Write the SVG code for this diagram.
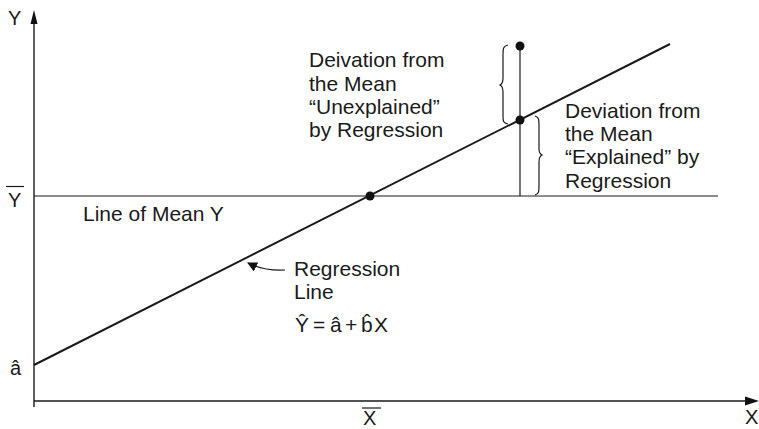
<svg xmlns="http://www.w3.org/2000/svg" width="759" height="429" viewBox="0 0 759 429">
<style>
text{font-family:"Liberation Sans",Arial,sans-serif;font-size:21px;fill:#1a1a1a}
.s{font-size:20px}
.ax{stroke:#1a1a1a;stroke-width:1.4;fill:none}
.thin{stroke:#1a1a1a;stroke-width:1.2;fill:none}
.reg{stroke:#1a1a1a;stroke-width:2;fill:none}
.dot{fill:#111}
</style>
<defs>
<marker id="ah" viewBox="0 0 10 10" refX="9" refY="5" markerWidth="10" markerHeight="10" markerUnits="userSpaceOnUse" orient="auto">
<path d="M0,0 L10,5 L0,10 Z" fill="#111"/>
</marker>
</defs>
<g id="connectors">
<path class="ax" d="M34,407 V22"/>
<path d="M34,10 L30.5,24 L37.5,24 Z" fill="#111"/>
<path class="ax" d="M34,401 H747"/>
<path d="M759,401 L745,396.5 L745,405.5 Z" fill="#111"/>
<path class="thin" d="M34,196 H718"/>
<path class="reg" d="M34,365 L670,44"/>
<path class="thin" d="M520,46 V196"/>
<path class="thin" d="M285,270 C268,271 258,268 248,263" marker-end="url(#ah)"/>
<path class="thin" stroke-width="1.4" d="M508,45 C503,46 503,49 503,54 V78 C503,82 502,84 500,85 C502,86 503,88 503,92 V116 C503,121 503,123 508,124"/>
<path class="thin" stroke-width="1.4" d="M535,116 C539,117 539,120 539,125 V149 C539,153 540,154 542,155 C540,156 539,158 539,162 V186 C539,191 539,194 535,195"/>
</g>
<g id="dots">
<circle class="dot" cx="370" cy="196" r="4.5"/>
<circle class="dot" cx="520" cy="120" r="4.5"/>
<circle class="dot" cx="520" cy="46" r="4.5"/>
</g>
<g id="axis-labels">
<text class="s" x="8" y="25">Y</text>
<text class="s" x="8" y="207">Y</text>
<path class="thin" d="M6,186.5 H24"/>
<text class="s" x="10" y="375">â</text>
<text class="s" x="363" y="425">X</text>
<path class="thin" d="M362,408 H381"/>
<text class="s" x="745" y="424">X</text>
</g>
<g id="mean-label"><text x="83" y="221">Line of Mean Y</text></g>
<g id="unexplained-label">
<text x="309" y="67">Deivation from</text>
<text x="309" y="91">the Mean</text>
<text x="309" y="114">“Unexplained”</text>
<text x="309" y="137">by Regression</text>
</g>
<g id="explained-label">
<text x="565" y="118">Deviation from</text>
<text x="565" y="141">the Mean</text>
<text x="565" y="164">“Explained” by</text>
<text x="565" y="188">Regression</text>
</g>
<g id="regression-label">
<text x="294" y="276">Regression</text>
<text x="294" y="299">Line</text>
<text y="332"><tspan x="295">Ŷ</tspan><tspan x="313">=</tspan><tspan x="330">â</tspan><tspan x="345">+</tspan><tspan x="361">b̂</tspan><tspan x="374">X</tspan></text>
</g>
</svg>
